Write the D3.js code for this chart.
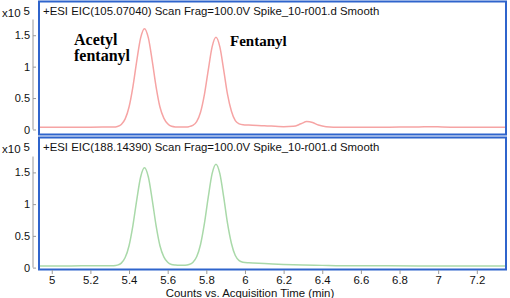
<!DOCTYPE html>
<html>
<head>
<meta charset="utf-8">
<script src="https://cdn.jsdelivr.net/npm/d3@7"></script>
<style>
  body { margin: 0; background: #fff; }
  text { font-family: Arial, "Liberation Sans", sans-serif; }
</style>
</head>
<body>
<svg id="chart" width="510" height="298"></svg>
<script>
// retention times (min) and intensities (x10^5)
var timesTop = [4.934, 5.0, 5.1, 5.2, 5.3, 5.32, 5.34, 5.36, 5.38, 5.40, 5.42, 5.44, 5.46, 5.48, 5.50, 5.52, 5.54, 5.56, 5.58, 5.60, 5.62, 5.64, 5.66, 5.69,
    5.71, 5.73, 5.75, 5.77, 5.79, 5.81, 5.83, 5.85, 5.87, 5.89, 5.91, 5.93, 5.95, 5.97, 5.99, 6.02, 6.1, 6.2, 6.25, 6.29, 6.32, 6.35, 6.38, 6.42,
    6.5, 6.6, 6.7, 6.8, 6.9, 6.96, 7.02, 7.1, 7.2, 7.351];
var eic105 = [0.035, 0.035, 0.035, 0.036, 0.038, 0.038, 0.047, 0.080, 0.168, 0.358, 0.680, 1.093, 1.457, 1.605, 1.457, 1.093, 0.680, 0.358, 0.180, 0.090, 0.050, 0.040, 0.038, 0.040,
    0.045, 0.064, 0.124, 0.273, 0.554, 0.946, 1.314, 1.467, 1.314, 0.946, 0.554, 0.290, 0.140, 0.090, 0.075, 0.070, 0.060, 0.045, 0.050, 0.090, 0.125, 0.110, 0.070, 0.045,
    0.036, 0.035, 0.036, 0.038, 0.040, 0.045, 0.040, 0.036, 0.035, 0.034];

var timesBottom = [4.934, 5.0, 5.1, 5.2, 5.3, 5.32, 5.34, 5.36, 5.38, 5.40, 5.42, 5.44, 5.46, 5.48, 5.50, 5.52, 5.54, 5.56, 5.58, 5.60, 5.62, 5.64, 5.66, 5.69,
    5.71, 5.73, 5.75, 5.77, 5.79, 5.81, 5.83, 5.85, 5.87, 5.89, 5.91, 5.93, 5.95, 5.97, 5.99, 6.02, 6.1, 6.2, 6.3, 6.4, 6.5, 6.7, 6.9, 7.1, 7.351];
var eic188 = [0.027, 0.027, 0.027, 0.028, 0.029, 0.030, 0.039, 0.071, 0.158, 0.345, 0.662, 1.068, 1.427, 1.572, 1.427, 1.068, 0.662, 0.345, 0.170, 0.085, 0.050, 0.040, 0.036, 0.038,
    0.048, 0.081, 0.170, 0.364, 0.691, 1.110, 1.480, 1.630, 1.480, 1.110, 0.691, 0.380, 0.190, 0.110, 0.085, 0.075, 0.065, 0.050, 0.040, 0.035, 0.030, 0.028, 0.027, 0.027, 0.027];

var yTicks = [0, 0.5, 1, 1.5];
var xTicks = [5, 5.2, 5.4, 5.6, 5.8, 6, 6.2, 6.4, 6.6, 6.8, 7, 7.2];
var panelTitles = ["+ESI EIC(105.07040) Scan Frag=100.0V Spike_10-r001.d  Smooth",
                   "+ESI EIC(188.14390) Scan Frag=100.0V Spike_10-r001.d  Smooth"];

var svg = d3.select("#chart");
var blue = "#2f64cc";
var axisGrey = "#9a9a9a";
var textSize = "11.4px";

var x = d3.scaleLinear().domain([4.934, 7.351]).range([39, 506]);

var panels = [
    { times: timesTop, values: eic105, color: "#f6a4a4", top: 1.5, bottom: 134.5, yDomain: [-0.08, 2.037], title: panelTitles[0] },
    { times: timesBottom, values: eic188, color: "#a9d9a9", top: 137.5, bottom: 269.5, yDomain: [-0.03, 2.05], title: panelTitles[1] }
];

panels.forEach(function (p, i) {
    var y = d3.scaleLinear().domain(p.yDomain).range([p.bottom, p.top]);

    // clip for the trace
    svg.append("clipPath").attr("id", "clip" + i)
        .append("rect")
        .attr("x", x.range()[0]).attr("y", p.top)
        .attr("width", x.range()[1] - x.range()[0]).attr("height", p.bottom - p.top);

    var line = d3.line()
        .x(function (d, k) { return x(p.times[k]); })
        .y(function (d) { return y(d); })
        .curve(d3.curveMonotoneX);

    svg.append("path")
        .datum(p.values)
        .attr("clip-path", "url(#clip" + i + ")")
        .attr("fill", "none")
        .attr("stroke", p.color)
        .attr("stroke-width", 1.5)
        .attr("d", line);

    // y axis (grey line left of the frame, ticks pointing inward)
    var yAxis = svg.append("g")
        .attr("transform", "translate(33,0)")
        .call(d3.axisLeft(y).tickValues(yTicks).tickFormat(function (d) { return d; })
            .tickSizeInner(-3).tickSizeOuter(0).tickPadding(3));
    yAxis.select(".domain").remove();
    yAxis.selectAll(".tick line").attr("stroke", axisGrey);
    yAxis.selectAll(".tick text").style("font-size", "11px").attr("fill", "#111");
    yAxis.append("line")
        .attr("x1", 0).attr("x2", 0)
        .attr("y1", y(1.75)).attr("y2", y(0))
        .attr("stroke", axisGrey);

    // x10^5 multiplier
    var mult = svg.append("text")
        .attr("x", 2).attr("y", p.top + 15.5)
        .style("font-size", "11.5px").attr("fill", "#111")
        .text("x10");
    mult.append("tspan").attr("dx", 3).attr("dy", -2).text("5");

    // frame
    svg.append("rect")
        .attr("x", x.range()[0]).attr("y", p.top)
        .attr("width", x.range()[1] - x.range()[0]).attr("height", p.bottom - p.top)
        .attr("fill", "none").attr("stroke", blue).attr("stroke-width", 2);

    svg.append("text")
        .attr("x", 43).attr("y", p.top + 13.8)
        .style("font-size", textSize).attr("fill", "#111")
        .text(p.title);

    if (i === 1) {
        var xAxis = svg.append("g")
            .attr("transform", "translate(0," + (p.bottom + 0.5) + ")")
            .call(d3.axisBottom(x).tickValues(xTicks).tickFormat(function (d) { return d; })
                .tickSizeInner(4).tickSizeOuter(0).tickPadding(2));
        xAxis.select(".domain").remove();
        xAxis.selectAll(".tick line").attr("stroke", axisGrey);
        xAxis.selectAll(".tick text").style("font-size", textSize).attr("fill", "#111");
    }
});

// peak labels
var labelFont = '"Times New Roman", "Liberation Serif", serif';
svg.append("text").attr("x", 74).attr("y", 44.5)
    .style("font-family", labelFont).style("font-weight", "bold").style("font-size", "16px")
    .text("Acetyl");
svg.append("text").attr("x", 74).attr("y", 60.5)
    .style("font-family", labelFont).style("font-weight", "bold").style("font-size", "16px")
    .text("fentanyl");
svg.append("text").attr("x", 230).attr("y", 45.5)
    .style("font-family", labelFont).style("font-weight", "bold").style("font-size", "15px")
    .text("Fentanyl");

// x axis title
svg.append("text")
    .attr("x", 250).attr("y", 296.5)
    .style("text-anchor", "middle").style("font-size", textSize).attr("fill", "#111")
    .text("Counts vs. Acquisition Time (min)");
</script>
</body>
</html>
